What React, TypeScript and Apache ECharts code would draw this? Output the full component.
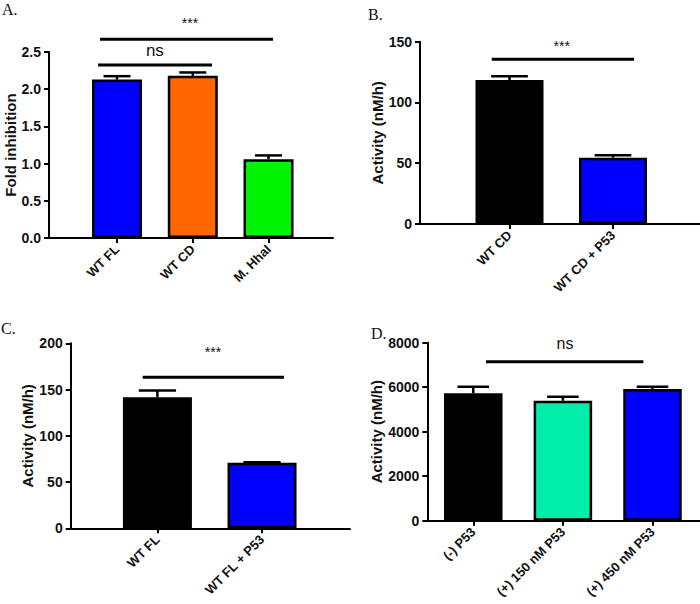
import React, { useEffect, useRef } from "react";
import * as echarts from "echarts";

// ---------- data ----------
const catsA = ["WT FL", "WT CD", "M. HhaI"];
const meanA = [2.13, 2.18, 1.06];
const errA = [0.045, 0.045, 0.05];
const colorsA = ["#0000FF", "#FF6600", "#00F400"];
const sigA = [
  { label: "ns", from: -0.25, to: 1.254, y: 2.325, labelX: 0.5, labelY: 2.52 },
  { label: "***", from: -0.225, to: 2.059, y: 2.671, labelX: 0.963, labelY: 2.89 },
];

const catsB = ["WT CD", "WT CD + P53"];
const meanB = [118.5, 54.6];
const errB = [3, 2];
const colorsB = ["#000000", "#0000FF"];
const sigB = [{ label: "***", from: -0.172, to: 1.203, y: 135.5, labelX: 0.505, labelY: 146.5 }];

const catsC = ["WT FL", "WT FL + P53"];
const meanC = [141.6, 70.9];
const errC = [7.5, 0.5];
const colorsC = ["#000000", "#0000FF"];
const sigC = [{ label: "***", from: -0.141, to: 1.21, y: 163.2, labelX: 0.531, labelY: 190.3 }];

const catsD = ["(-) P53", "(+) 150 nM P53", "(+) 450 nM P53"];
const meanD = [5730, 5390, 5920];
const errD = [290, 180, 100];
const colorsD = ["#000000", "#00EEAA", "#0000FF"];
const sigD = [{ label: "ns", from: 0.142, to: 1.898, y: 7146, labelX: 1.024, labelY: 7964 }];

const panelLabels = ["A.", "B.", "C.", "D."];

// ---------- layout ----------
const FONT = "Liberation Sans";
const SERIF = "Liberation Serif";

const panels = [
  {
    cats: catsA, means: meanA, errs: errA, colors: colorsA, sig: sigA,
    grid: { left: 49, top: 52, width: 284, height: 186 },
    xMin: -0.898, xMax: 2.851, yMax: 2.5, yInterval: 0.5, decimals: 1,
    barWidth: 50, name: "Fold inhibition", nameGap: 28, sigFont: { ns: 17, "***": 14 },
    label: { x: 2, y: 1 },
  },
  {
    cats: catsB, means: meanB, errs: errB, colors: colorsB, sig: sigB,
    grid: { left: 420, top: 41.7, width: 280, height: 182.3 },
    xMin: -0.865, xMax: 1.841, yMax: 150, yInterval: 50, decimals: 0,
    barWidth: 68, name: "Activity (nM/h)", nameGap: 30, sigFont: { ns: 17, "***": 14 },
    label: { x: 368, y: 6 },
  },
  {
    cats: catsC, means: meanC, errs: errC, colors: colorsC, sig: sigC,
    grid: { left: 70.7, top: 343.3, width: 279.3, height: 185 },
    xMin: -0.829, xMax: 1.841, yMax: 200, yInterval: 50, decimals: 0,
    barWidth: 69, name: "Activity (nM/h)", nameGap: 36, sigFont: { ns: 17, "***": 14 },
    label: { x: 1, y: 320 },
  },
  {
    cats: catsD, means: meanD, errs: errD, colors: colorsD, sig: sigD,
    grid: { left: 427.3, top: 342.7, width: 272.7, height: 178 },
    xMin: -0.513, xMax: 2.53, yMax: 8000, yInterval: 2000, decimals: 0,
    barWidth: 58.5, name: "Activity (nM/h)", nameGap: 38, sigFont: { ns: 16, "***": 14 },
    label: { x: 371, y: 325 },
  },
];

function buildOption() {
  const grid: any[] = [];
  const xAxis: any[] = [];
  const yAxis: any[] = [];
  const series: any[] = [];
  const graphic: any[] = [];

  panels.forEach((p, i) => {
    grid.push({ ...p.grid, containLabel: false });
    const idxs = p.cats.map((_, k) => k);
    xAxis.push({
      gridIndex: i,
      type: "value",
      min: p.xMin,
      max: p.xMax,
      axisLine: { show: true, onZero: false, lineStyle: { color: "#000", width: 2 } },
      axisTick: { show: true, customValues: idxs, length: 5, lineStyle: { color: "#000", width: 2 } },
      axisLabel: {
        show: true,
        customValues: idxs,
        formatter: (v: number) => p.cats[Math.round(v)] ?? "",
        rotate: 45,
        margin: 9,
        color: "#111",
        fontFamily: FONT,
        fontWeight: "bold",
        fontSize: 13,
      },
      splitLine: { show: false },
    });
    yAxis.push({
      gridIndex: i,
      type: "value",
      min: 0,
      max: p.yMax,
      interval: p.yInterval,
      name: p.name,
      nameLocation: "middle",
      nameRotate: 90,
      nameGap: p.nameGap,
      nameTextStyle: { color: "#111", fontFamily: FONT, fontWeight: "bold", fontSize: 15 },
      axisLine: { show: true, onZero: false, lineStyle: { color: "#000", width: 2 } },
      axisTick: { show: true, length: 5, lineStyle: { color: "#000", width: 2 } },
      axisLabel: {
        color: "#111",
        fontFamily: FONT,
        fontWeight: "bold",
        fontSize: 14,
        margin: 8,
        formatter: (v: number) => v.toFixed(p.decimals),
      },
      splitLine: { show: false },
    });

    // error bars (mean + SEM, upward)
    series.push({
      type: "custom",
      xAxisIndex: i,
      yAxisIndex: i,
      clip: false,
      z: 1,
      data: p.means.map((m, k) => [k, m, p.errs[k]]),
      renderItem: (params: any, api: any) => {
        const x = api.value(0);
        const m = api.value(1);
        const e = api.value(2);
        const base = api.coord([x, m]);
        const top = api.coord([x, m + e]);
        const half = p.barWidth * 0.27;
        return {
          type: "group",
          children: [
            { type: "line", shape: { x1: base[0], y1: base[1], x2: top[0], y2: top[1] }, style: { stroke: "#000", lineWidth: 2.5 } },
            { type: "line", shape: { x1: top[0] - half, y1: top[1], x2: top[0] + half, y2: top[1] }, style: { stroke: "#000", lineWidth: 2.5 } },
          ],
        };
      },
    });

    // bars
    series.push({
      type: "bar",
      xAxisIndex: i,
      yAxisIndex: i,
      barWidth: p.barWidth,
      z: 2,
      data: p.means.map((m, k) => ({
        value: [k, m],
        itemStyle: { color: p.colors[k], borderColor: "#000", borderWidth: 2.5 },
      })),
    });

    // significance annotations
    series.push({
      type: "custom",
      xAxisIndex: i,
      yAxisIndex: i,
      clip: false,
      z: 3,
      data: p.sig.map((s) => [s.from, s.to, s.y, s.labelX, s.labelY]),
      renderItem: (params: any, api: any) => {
        const s = p.sig[params.dataIndex];
        const a = api.coord([api.value(0), api.value(2)]);
        const b = api.coord([api.value(1), api.value(2)]);
        const t = api.coord([api.value(3), api.value(4)]);
        return {
          type: "group",
          children: [
            { type: "line", shape: { x1: a[0], y1: a[1], x2: b[0], y2: b[1] }, style: { stroke: "#000", lineWidth: 3 } },
            {
              type: "text",
              x: t[0],
              y: t[1],
              style: {
                text: s.label,
                fill: "#111",
                fontFamily: FONT,
                fontSize: (p.sigFont as any)[s.label] ?? 16,
                align: "center",
                verticalAlign: "middle",
              },
            },
          ],
        };
      },
    });

    graphic.push({
      type: "text",
      left: p.label.x,
      top: p.label.y,
      style: { text: panelLabels[i], fill: "#111", fontFamily: SERIF, fontSize: 16 },
    });
  });

  return {
    animation: false,
    backgroundColor: "#ffffff",
    grid,
    xAxis,
    yAxis,
    series,
    graphic,
  };
}

export default function App() {
  const ref = useRef<HTMLDivElement>(null);
  useEffect(() => {
    if (!ref.current) return;
    const chart = echarts.init(ref.current, undefined, { renderer: "svg" });
    chart.setOption(buildOption() as any);
    return () => chart.dispose();
  }, []);
  return (
    <div
      ref={ref}
      style={{ position: "absolute", left: 0, top: 0, width: 700, height: 604, background: "#fff" }}
    />
  );
}
